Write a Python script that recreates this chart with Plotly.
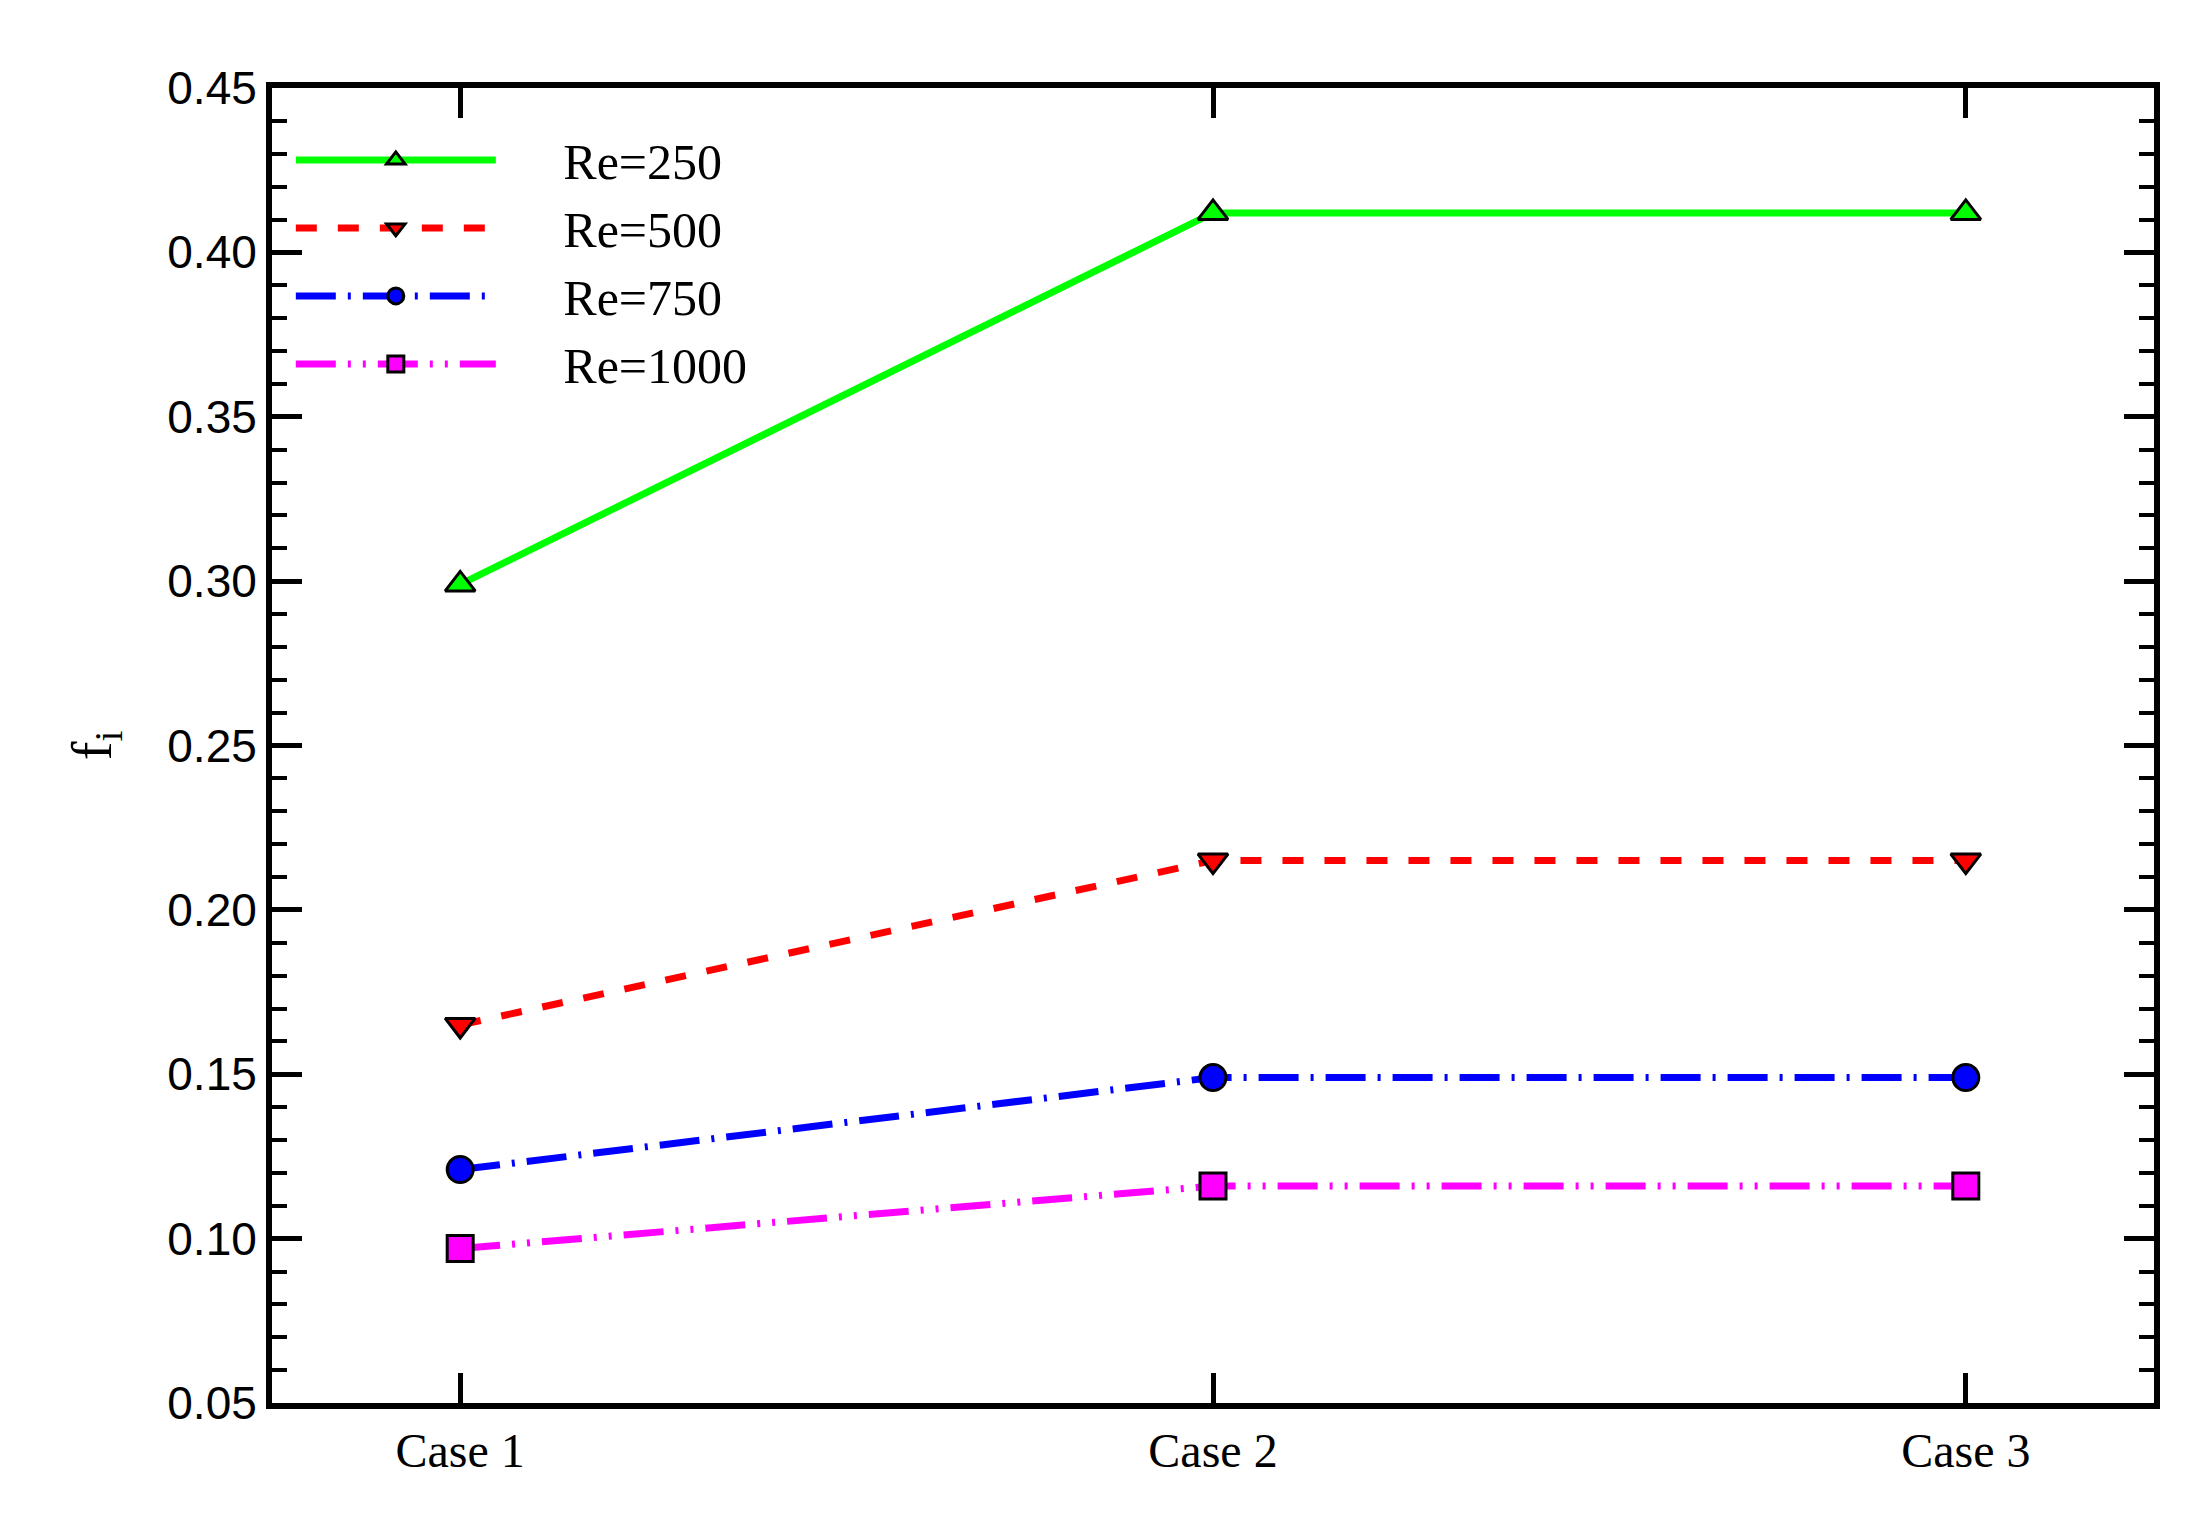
import plotly.graph_objects as go

cases = [1, 2, 3]
case_labels = ['Case 1', 'Case 2', 'Case 3']
re250 = [0.299, 0.412, 0.412]
re500 = [0.165, 0.215, 0.215]
re750 = [0.121, 0.149, 0.149]
re1000 = [0.097, 0.116, 0.116]

series = [
    ('Re=250', re250, '#00ff00', 'solid', 'triangle-up'),
    ('Re=500', re500, '#ff0000', 'dash', 'triangle-down'),
    ('Re=750', re750, '#0000ff', '40px,12px,3px,12px', 'circle'),
    ('Re=1000', re1000, '#ff00ff', '40px,12px,3px,12px,3px,12px', 'square'),
]

fig = go.Figure()
for name, vals, color, dash, sym in series:
    fig.add_trace(go.Scatter(
        x=cases, y=vals, name='&nbsp;&nbsp;&nbsp;&nbsp;&nbsp;' + name, mode='lines+markers',
        line=dict(color=color, width=7, dash=dash),
        marker=dict(symbol=sym, size=26, color=color, line=dict(color='black', width=3)),
    ))

axis_common = dict(showline=True, linecolor='black', linewidth=6, mirror='allticks',
                   ticks='inside', tickwidth=5, tickcolor='black', showgrid=False, zeroline=False)

fig.update_xaxes(range=[0.75, 3.25], tickvals=cases, ticktext=case_labels, ticklen=30,
                 tickfont=dict(family='Liberation Serif', size=48, color='black'), **axis_common)
fig.update_yaxes(range=[0.05, 0.45], dtick=0.05, tickformat='.2f', ticklen=30,
                 minor=dict(dtick=0.01, ticks='inside', ticklen=15, tickwidth=4, tickcolor='black'),
                 tickfont=dict(family='Liberation Sans', size=46, color='black'),
                 title=dict(text='f<sub>i</sub>', font=dict(family='Liberation Serif', size=56, color='black'),
                            standoff=40),
                 **axis_common)

fig.update_layout(
    width=2199, height=1528,
    margin=dict(l=264, r=53, t=80, b=133),
    plot_bgcolor='white', paper_bgcolor='white',
    legend=dict(x=0.01, y=0.975, xanchor='left', yanchor='top', bgcolor='rgba(0,0,0,0)',
                font=dict(family='Liberation Serif', size=50, color='black'),
                itemwidth=200, tracegroupgap=0),
)

fig.write_html('out.html')
